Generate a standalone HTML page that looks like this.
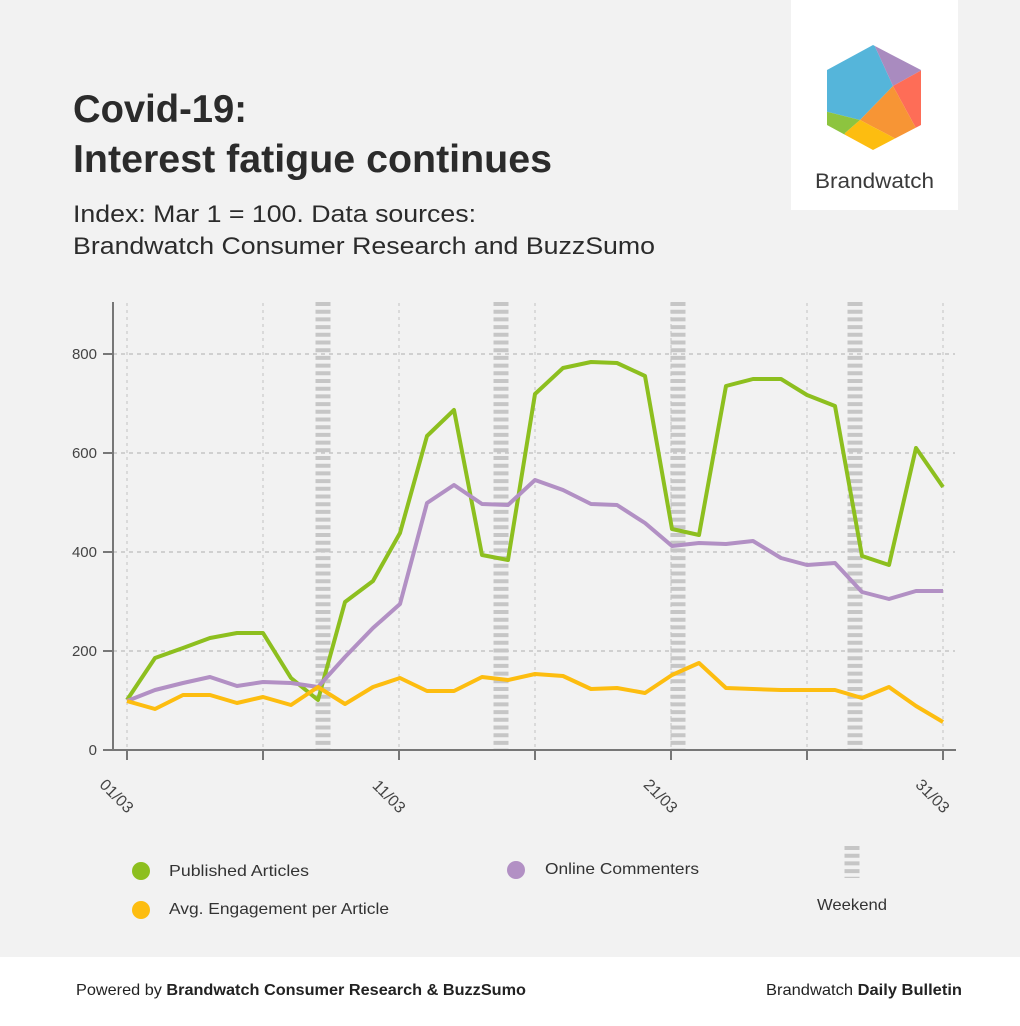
<!DOCTYPE html>
<html><head><meta charset="utf-8"><style>
body{margin:0;width:1020px;height:1026px;background:#f2f2f2;font-family:"Liberation Sans",sans-serif;overflow:hidden;position:relative}
</style></head><body>
<svg width="1020" height="1026" style="position:absolute;left:0;top:0">
<rect x="791" y="0" width="167" height="210" fill="#fff"/>
<defs><clipPath id="hx"><polygon points="873,45 921,70 921,125 873,150 827,125 827,70"/></clipPath></defs>
<g clip-path="url(#hx)">
<polygon points="800,30 872,40 893,86 860,120 800,105" fill="#55b5da"/>
<polygon points="872,40 940,40 940,60 893,86" fill="#a98bbf"/>
<polygon points="940,60 893,86 917,130 940,140" fill="#fe6d57"/>
<polygon points="893,86 917,130 898,140 860,120" fill="#f79535"/>
<polygon points="860,120 898,140 890,170 840,170 845,133" fill="#fdbd10"/>
<polygon points="800,105 860,120 845,133 840,170 800,170" fill="#8dc43f"/>
</g>
<text x="815" y="188" font-size="21" fill="#3a3a3a" textLength="119" lengthAdjust="spacingAndGlyphs">Brandwatch</text>
<text x="73" y="122" font-size="39" font-weight="bold" fill="#2b2b2b" textLength="174" lengthAdjust="spacingAndGlyphs">Covid-19:</text>
<text x="73" y="172" font-size="39" font-weight="bold" fill="#2b2b2b" textLength="479" lengthAdjust="spacingAndGlyphs">Interest fatigue continues</text>
<text x="73" y="222" font-size="24" fill="#2b2b2b" textLength="403" lengthAdjust="spacingAndGlyphs">Index: Mar 1 = 100. Data sources:</text>
<text x="73" y="254" font-size="24" fill="#2b2b2b" textLength="582" lengthAdjust="spacingAndGlyphs">Brandwatch Consumer Research and BuzzSumo</text>
<g stroke="#bbb" stroke-width="1.3" stroke-dasharray="4,4">
<line x1="113" y1="354" x2="955" y2="354"/><line x1="113" y1="453" x2="955" y2="453"/><line x1="113" y1="552" x2="955" y2="552"/><line x1="113" y1="651" x2="955" y2="651"/>
</g>
<g stroke="#ccc" stroke-width="1.3" stroke-dasharray="3,4">
<line x1="127" y1="303" x2="127" y2="750"/><line x1="263" y1="303" x2="263" y2="750"/><line x1="399" y1="303" x2="399" y2="750"/><line x1="535" y1="303" x2="535" y2="750"/><line x1="671" y1="303" x2="671" y2="750"/><line x1="807" y1="303" x2="807" y2="750"/><line x1="943" y1="303" x2="943" y2="750"/>
</g>
<g stroke="#c6c6c6" stroke-width="15" stroke-dasharray="4,3.7">
<line x1="323" y1="302" x2="323" y2="750"/><line x1="501" y1="302" x2="501" y2="750"/><line x1="678" y1="302" x2="678" y2="750"/><line x1="855" y1="302" x2="855" y2="750"/>
<line x1="852" y1="846" x2="852" y2="878"/>
</g>
<g stroke="#777" stroke-width="2" fill="none">
<line x1="113" y1="302" x2="113" y2="751"/><line x1="103" y1="750" x2="956" y2="750"/>
<line x1="103" y1="354" x2="113" y2="354"/><line x1="103" y1="453" x2="113" y2="453"/><line x1="103" y1="552" x2="113" y2="552"/><line x1="103" y1="651" x2="113" y2="651"/>
<line x1="127" y1="750" x2="127" y2="760"/><line x1="263" y1="750" x2="263" y2="760"/><line x1="399" y1="750" x2="399" y2="760"/><line x1="535" y1="750" x2="535" y2="760"/><line x1="671" y1="750" x2="671" y2="760"/><line x1="807" y1="750" x2="807" y2="760"/><line x1="943" y1="750" x2="943" y2="760"/>
</g>
<g font-size="15" fill="#444" text-anchor="end">
<text x="97" y="359">800</text><text x="97" y="458">600</text><text x="97" y="557">400</text><text x="97" y="656">200</text><text x="97" y="755">0</text>
</g>
<g font-size="16" fill="#444" text-anchor="end">
<text transform="translate(127,814) rotate(45)">01/03</text>
<text transform="translate(399,814) rotate(45)">11/03</text>
<text transform="translate(671,814) rotate(45)">21/03</text>
<text transform="translate(943,814) rotate(45)">31/03</text>
</g>
<g fill="none" stroke-width="4" stroke-linejoin="round">
<polyline stroke="#8dbf1f" points="127,700 155,658 183,648 210,638 237,633 263,633 291,678 318,700 345,602 373,581 400,533 427,436 454,410 482,555 508,560 535,394 563,368 591,362 617,363 645,376 672,529 699,535 726,386 753,379 781,379 807,395 835,406 862,556 889,565 916,448 943,487"/>
<polyline stroke="#b290c4" points="127,701 155,690 183,683 210,677 237,686 263,682 291,683 318,687 345,657 373,628 400,604 427,503 454,485 482,504 508,505 535,480 563,490 591,504 617,505 645,523 672,546 699,543 726,544 753,541 781,558 807,565 835,563 862,592 889,599 916,591 943,591"/>
<polyline stroke="#fdbd10" points="127,701 155,709 183,695 210,695 237,703 263,697 291,705 318,687 345,704 373,687 400,678 427,691 454,691 482,677 508,680 535,674 563,676 591,689 617,688 645,693 672,675 699,663 726,688 753,689 781,690 807,690 835,690 862,698 889,687 916,706 943,722"/>
</g>
<circle cx="141" cy="871" r="9" fill="#8dbf1f"/><text x="169" y="876" font-size="16" fill="#333" textLength="140" lengthAdjust="spacingAndGlyphs">Published Articles</text>
<circle cx="141" cy="910" r="9" fill="#fdbd10"/><text x="169" y="914" font-size="16" fill="#333" textLength="220" lengthAdjust="spacingAndGlyphs">Avg. Engagement per Article</text>
<circle cx="516" cy="870" r="9" fill="#b290c4"/><text x="545" y="874" font-size="16" fill="#333" textLength="154" lengthAdjust="spacingAndGlyphs">Online Commenters</text>
<text x="817" y="910" font-size="16" fill="#333" textLength="70" lengthAdjust="spacingAndGlyphs">Weekend</text>
<rect x="0" y="957" width="1020" height="69" fill="#fff"/>
<text x="76" y="995" font-size="16" fill="#222" textLength="450" lengthAdjust="spacingAndGlyphs">Powered by <tspan font-weight="bold">Brandwatch Consumer Research &amp; BuzzSumo</tspan></text>
<text x="766" y="995" font-size="16" fill="#222" textLength="196" lengthAdjust="spacingAndGlyphs">Brandwatch <tspan font-weight="bold">Daily Bulletin</tspan></text>
</svg>
</body></html>
